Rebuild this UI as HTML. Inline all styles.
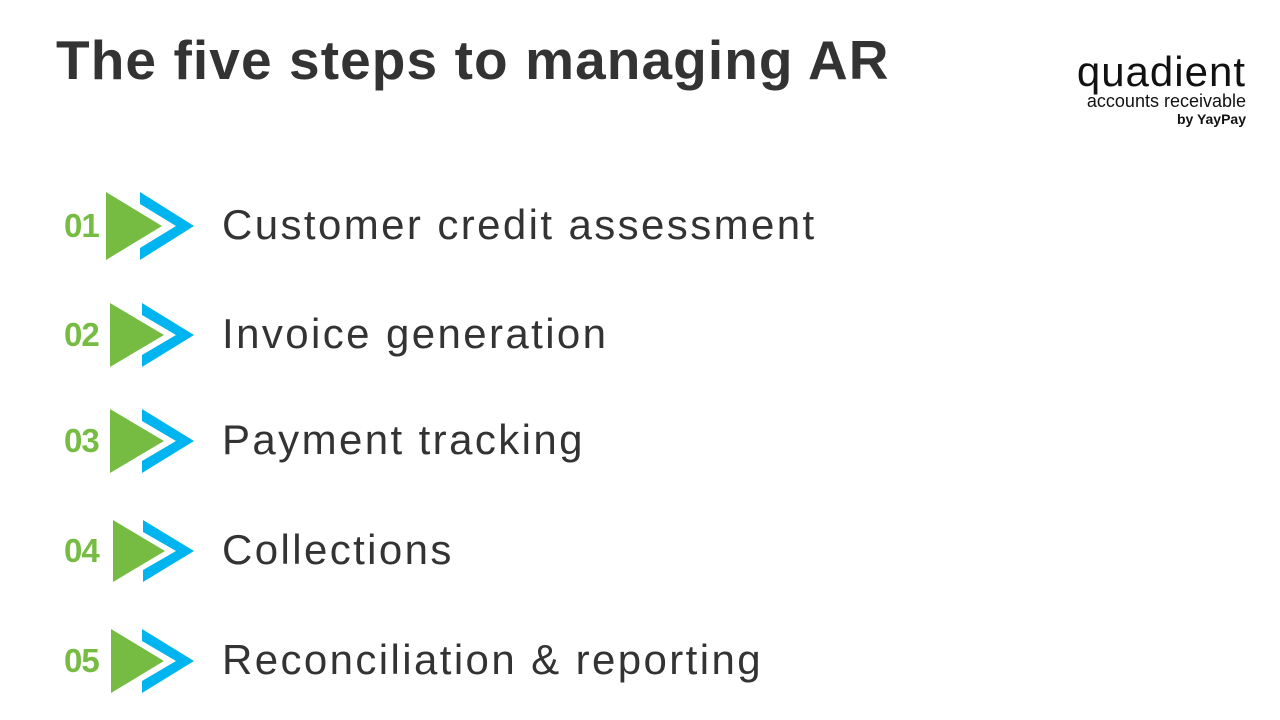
<!DOCTYPE html>
<html><head><meta charset="utf-8"><style>
body{margin:0;width:1280px;height:720px;background:#fff;position:relative;overflow:hidden;font-family:"Liberation Sans",sans-serif;color:#333}
.t{position:absolute;left:56px;top:28px;font-size:55px;font-weight:bold;white-space:nowrap;letter-spacing:1.1px}
.row{position:absolute;left:0;width:1280px;height:0}
.num{position:absolute;left:64px;font-size:33px;font-weight:bold;color:#76bc43;transform:translateY(-50%);top:0;letter-spacing:-1px}
.lab{position:absolute;left:222px;font-size:42px;transform:translateY(-52%);top:0;white-space:nowrap;letter-spacing:2.4px}
svg.a{position:absolute;left:0;top:-35px}
.logo{position:absolute;left:1040px;top:52px;color:#111;text-align:right;width:206px}
</style></head><body>
<div class="t">The five steps to managing AR</div>
<div class="logo">
<div style="font-size:42px;line-height:40px;letter-spacing:1px;font-weight:normal">quadient</div>
<div style="font-size:18px;line-height:18px">accounts receivable</div>
<div style="font-size:14px;font-weight:bold;line-height:18px">by YayPay</div>
</div>

<div class="row" style="top:226px"><div class="num">01</div>
<svg class="a" width="220" height="70"><polygon points="106,1 162,35 106,69" fill="#76bc43"/><polygon points="140,1 194,35 140,69 140,57 176,35 140,13" fill="#00b5ef"/></svg>
<div class="lab">Customer credit assessment</div></div>

<div class="row" style="top:335px"><div class="num">02</div>
<svg class="a" width="220" height="70"><polygon points="110,3 164,35 110,67" fill="#76bc43"/><polygon points="142,3 194,35 142,67 142,55 176,35 142,15" fill="#00b5ef"/></svg>
<div class="lab">Invoice generation</div></div>

<div class="row" style="top:441px"><div class="num">03</div>
<svg class="a" width="220" height="70"><polygon points="110,3 164,35 110,67" fill="#76bc43"/><polygon points="142,3 194,35 142,67 142,55 176,35 142,15" fill="#00b5ef"/></svg>
<div class="lab">Payment tracking</div></div>

<div class="row" style="top:551px"><div class="num">04</div>
<svg class="a" width="220" height="70"><polygon points="113,4 165,35 113,66" fill="#76bc43"/><polygon points="143,4 194,35 143,66 143,54 176,35 143,16" fill="#00b5ef"/></svg>
<div class="lab">Collections</div></div>

<div class="row" style="top:661px"><div class="num">05</div>
<svg class="a" width="220" height="70"><polygon points="111,3 164,35 111,67" fill="#76bc43"/><polygon points="142,3 194,35 142,67 142,55 176,35 142,15" fill="#00b5ef"/></svg>
<div class="lab">Reconciliation &amp; reporting</div></div>
</body></html>
